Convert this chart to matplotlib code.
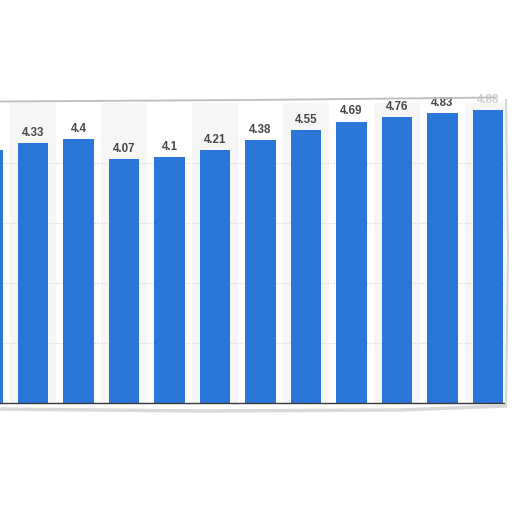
import numpy as np
import matplotlib
matplotlib.use("Agg")
import matplotlib.pyplot as plt
from matplotlib.lines import Line2D

# values, left to right (first one is cut off by the crop)
values = [4.22, 4.33, 4.4, 4.07, 4.1, 4.21, 4.38, 4.55, 4.69, 4.76, 4.83, 4.88]
# first label falls outside the picture, so it is left empty
labels = ["", "4.33", "4.4", "4.07", "4.1", "4.21", "4.38", "4.55", "4.69", "4.76", "4.83", "4.88"]
gridvals = [1, 2, 3, 4]

bar_color = "#2b76d9"
stripe_color = "#f6f6f6"
text_color = "#474747"

fig = plt.figure(figsize=(5.12, 5.12), dpi=100)
fig.patch.set_facecolor("white")

# plot area (the torn piece of paper)
ax = fig.add_axes([0.0, 109 / 512, 505 / 512, 300 / 512])
ax.set_facecolor("white")

x = np.arange(len(values))

# alternate background stripes centred on every other bar
for k in x:
    if k % 2 == 1:
        ax.axvspan(k - 0.5, k + 0.5, color=stripe_color, zorder=0, lw=0)

for g in gridvals:
    ax.axhline(g, color="#d4d4d4", lw=0.8, ls=(0, (1, 1.5)), zorder=1)

ax.bar(x, values, width=0.66, color=bar_color, zorder=2)

for k, (v, lab) in enumerate(zip(values, labels)):
    if not lab:
        continue
    alpha = 0.25 if k == len(values) - 1 else 1.0
    ax.text(k, v + 0.07, lab, ha="center", va="bottom", fontsize=8.3,
            fontweight="bold", color=text_color, family="Liberation Sans",
            clip_on=False, alpha=alpha, zorder=3)

ax.set_xlim(12.5 / 45.5, 517.5 / 45.5)
ax.set_ylim(0, 5)
ax.set_xticks([])
ax.set_yticks([])
for side in ["top", "left", "right"]:
    ax.spines[side].set_visible(False)
ax.spines["bottom"].set_color("#3a3a3a")
ax.spines["bottom"].set_linewidth(1.0)

# paper edges / shadow
def px(xp, yp):
    return xp / 512, 1 - yp / 512

top_x, top_y = zip(px(0, 101.5), px(250, 100), px(495, 97.5))
fig.add_artist(Line2D(top_x, top_y, color="#bdbdbd", lw=1.3))
bot_x, bot_y = zip(px(0, 409), px(200, 411), px(400, 410), px(505, 406))
fig.add_artist(Line2D(bot_x, bot_y, color="#d0d0d0", lw=2.5, alpha=0.8))
r_x, r_y = zip(px(506, 100), px(508, 250), px(506, 406))
fig.add_artist(Line2D(r_x, r_y, color="#d6d6d6", lw=1.5))

fig.savefig("out.png", dpi=100, facecolor="white")
